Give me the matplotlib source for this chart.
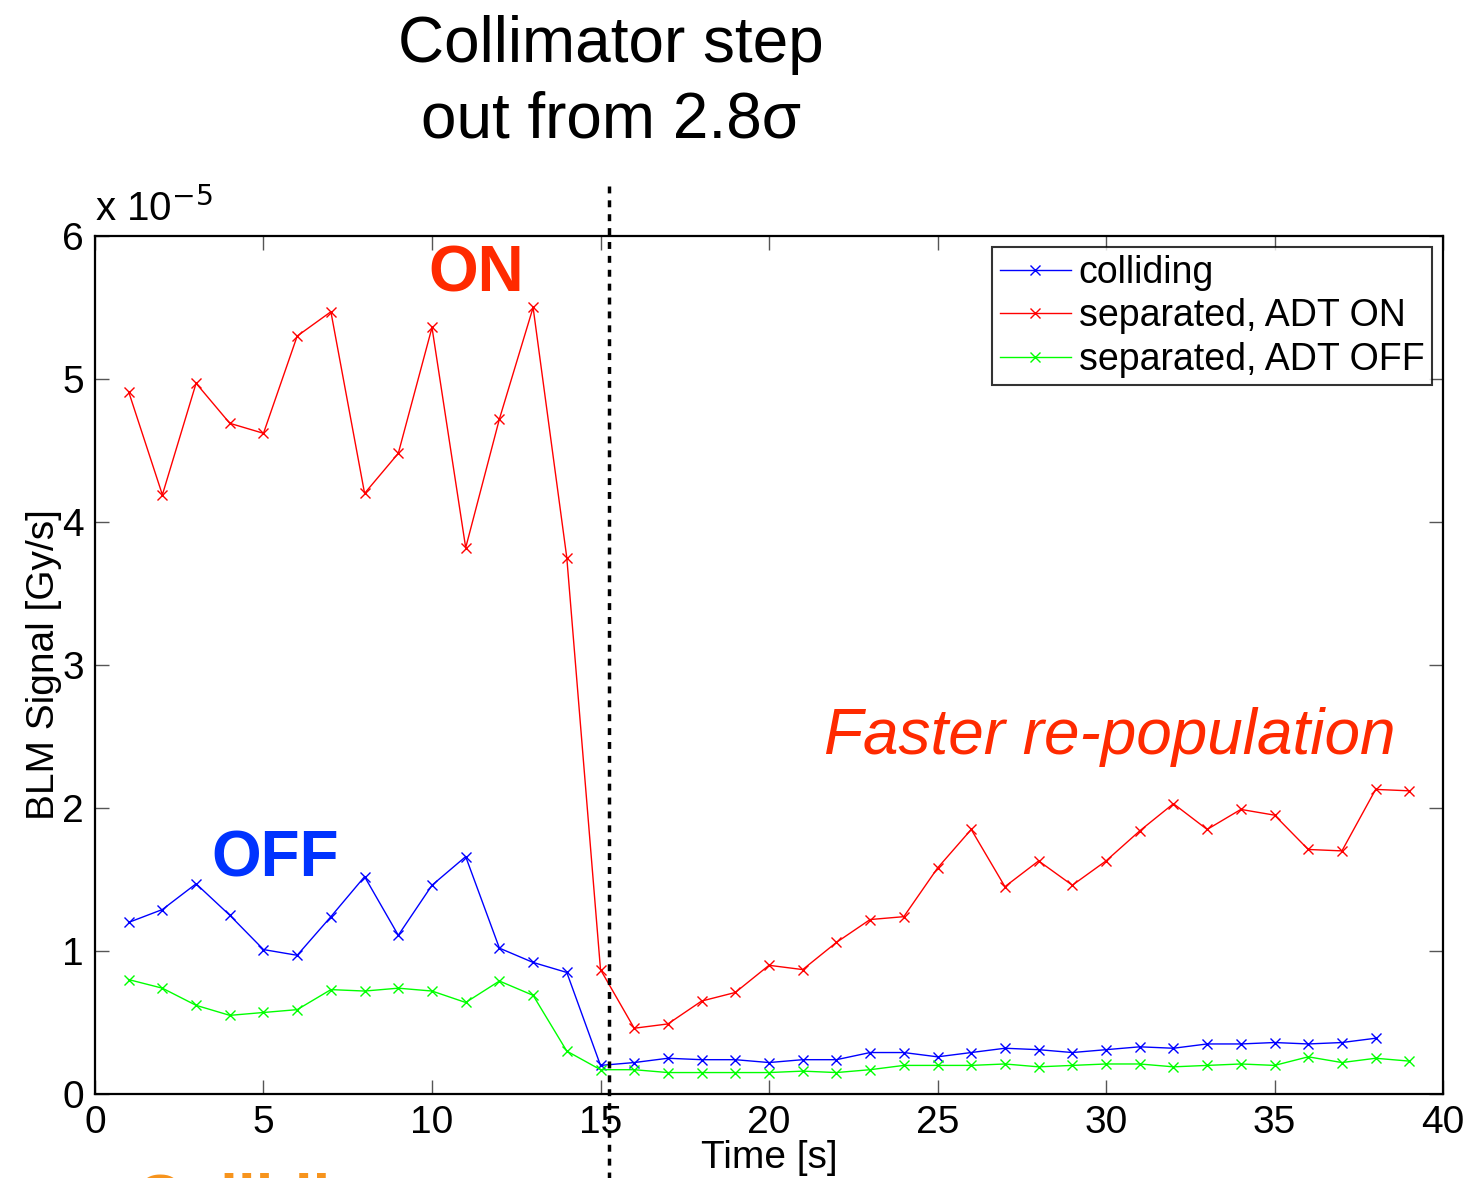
import numpy as np
import matplotlib.pyplot as plt

plt.rcParams['font.family'] = ['Liberation Sans', 'DejaVu Sans']

# BLM signal in units of 1e-5 Gy/s, one sample per second
t_sep = list(range(1, 40))
t_col = list(range(1, 39))

colliding = [1.20, 1.29, 1.47, 1.25, 1.01, 0.97, 1.24, 1.52, 1.11, 1.46,
             1.66, 1.02, 0.92, 0.85, 0.20, 0.22, 0.25, 0.24, 0.24, 0.22,
             0.24, 0.24, 0.29, 0.29, 0.26, 0.29, 0.32, 0.31, 0.29, 0.31,
             0.33, 0.32, 0.35, 0.35, 0.36, 0.35, 0.36, 0.39]
adt_on = [4.91, 4.19, 4.97, 4.69, 4.62, 5.30, 5.47, 4.20, 4.48, 5.36,
          3.82, 4.72, 5.50, 3.75, 0.87, 0.46, 0.49, 0.65, 0.71, 0.90,
          0.87, 1.06, 1.22, 1.24, 1.58, 1.85, 1.45, 1.63, 1.46, 1.63,
          1.84, 2.03, 1.85, 1.99, 1.95, 1.71, 1.70, 2.13, 2.12]
adt_off = [0.80, 0.74, 0.62, 0.55, 0.57, 0.59, 0.73, 0.72, 0.74, 0.72,
           0.64, 0.79, 0.69, 0.30, 0.17, 0.17, 0.15, 0.15, 0.15, 0.15,
           0.16, 0.15, 0.17, 0.20, 0.20, 0.20, 0.21, 0.19, 0.20, 0.21,
           0.21, 0.19, 0.20, 0.21, 0.20, 0.26, 0.22, 0.25, 0.23]

t_step = 15.25  # collimator step-out time

fig = plt.figure(figsize=(14.68, 11.78), dpi=100)
ax = fig.add_axes([0.0647, 0.0713, 0.9183, 0.7284])

kw = dict(marker='x', markersize=7, linewidth=1.0, markeredgewidth=1.0)
ax.plot(t_col, colliding, color='#0000ff', label='colliding', **kw)
ax.plot(t_sep, adt_on, color='#ff0000', label='separated, ADT ON', **kw)
ax.plot(t_sep, adt_off, color='#00ff00', label='separated, ADT OFF', **kw)

ax.set_xlim(0, 40)
ax.set_ylim(0, 6)
ax.set_xticks(range(0, 41, 5))
ax.set_yticks(range(0, 7))
ax.tick_params(direction='in', length=10, width=1.0, labelsize=28,
               top=True, right=True, pad=8, color='#555555')
for s in ax.spines.values():
    s.set_linewidth(1.6)

ax.set_xlabel('Time [s]', fontsize=28, labelpad=-1)
ax.set_ylabel('BLM Signal [Gy/s]', fontsize=28, labelpad=0)
ax.text(0.0, 1.008, r'x 10$^{-5}$', transform=ax.transAxes, fontsize=29,
        ha='left', va='bottom')

# step-out marker, running past the axes
ax.axvline(t_step, ymin=-0.12, ymax=1.058, color='black', linewidth=2.5,
           linestyle=(0, (2, 2)), clip_on=False)

leg = ax.legend(loc='upper right', fontsize=27, frameon=True, fancybox=False,
                edgecolor='black', handlelength=1.9, handletextpad=0.2,
                borderpad=0.2, labelspacing=0.2, borderaxespad=0.3)
leg.get_frame().set_linewidth(1.5)

ax.text(11.3, 5.52, 'ON', color='#ff2a00', fontsize=46, fontweight='bold',
        ha='center', va='bottom')
ax.text(5.35, 1.43, 'OFF', color='#0033ff', fontsize=46, fontweight='bold',
        ha='center', va='bottom')
ax.text(30.1, 2.29, 'Faster re-population', color='#ff2a00', fontsize=46,
        style='italic', ha='center', va='bottom')

fig.text(0.416, 0.962, 'Collimator step', fontsize=46, ha='center', va='center')
fig.text(0.416, 0.898, 'out from 2.8σ', fontsize=46, ha='center', va='center')
fig.text(0.092, -0.047, 'Colliding', color='#f7941d', fontsize=46,
         fontweight='bold', ha='left', va='bottom')

fig.savefig('out.png', dpi=100)
